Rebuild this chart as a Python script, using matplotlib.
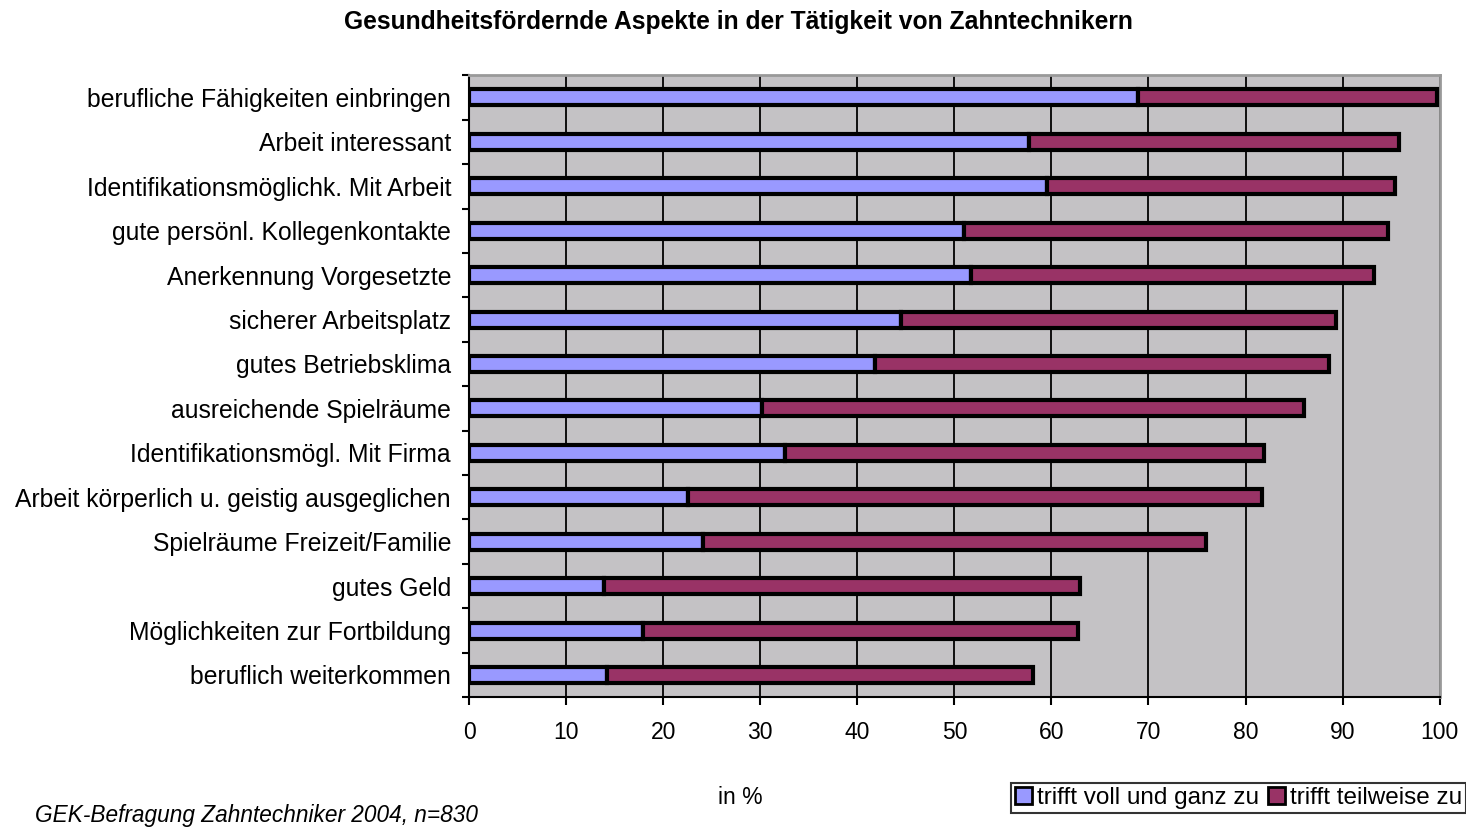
import matplotlib.pyplot as plt
from matplotlib.patches import Patch

plt.rcParams['font.family'] = ['Liberation Sans', 'DejaVu Sans']

categories = [
    'beruflich weiterkommen',
    'Möglichkeiten zur Fortbildung',
    'gutes Geld',
    'Spielräume Freizeit/Familie',
    'Arbeit körperlich u. geistig ausgeglichen',
    'Identifikationsmögl. Mit Firma',
    'ausreichende Spielräume',
    'gutes Betriebsklima',
    'sicherer Arbeitsplatz',
    'Anerkennung Vorgesetzte',
    'gute persönl. Kollegenkontakte',
    'Identifikationsmöglichk. Mit Arbeit',
    'Arbeit interessant',
    'berufliche Fähigkeiten einbringen',
]
voll = [14.2, 17.9, 13.9, 24.1, 22.6, 32.5, 30.2, 41.8, 44.5, 51.7, 51.0, 59.5, 57.7, 68.9]
gesamt = [58.1, 62.7, 62.9, 75.9, 81.7, 81.9, 86.0, 88.6, 89.3, 93.2, 94.7, 95.4, 95.8, 99.7]
teilweise = [g - v for g, v in zip(gesamt, voll)]

blue = '#9999FF'
purple = '#993366'

fig = plt.figure(figsize=(14.66, 8.27), dpi=100)
ax = fig.add_axes([0.320, 0.157, 0.662, 0.752])
ax.set_facecolor('#C4C2C5')

y = range(len(categories))
ax.barh(y, voll, height=0.36, color=blue, edgecolor='black', linewidth=3, zorder=3)
ax.barh(y, teilweise, left=voll, height=0.36, color=purple, edgecolor='black',
        linewidth=3, zorder=3)

ax.set_xlim(0, 100)
ax.set_ylim(-0.5, len(categories) - 0.5)
ax.set_xticks(range(0, 101, 10))
ax.set_yticks(list(y))
ax.set_yticklabels(categories, fontsize=17.8)
ax.set_yticks([i - 0.5 for i in range(len(categories) + 1)], minor=True)
ax.tick_params(axis='y', which='major', length=0, pad=13)
ax.tick_params(axis='y', which='minor', length=5, width=1.5, direction='out')
ax.tick_params(axis='x', length=6, width=1.5, labelsize=16.5, pad=11)
ax.grid(axis='x', color='black', linewidth=1.3, zorder=1)
ax.set_axisbelow(True)

for side in ['top', 'right']:
    ax.spines[side].set_color('#999999')
    ax.spines[side].set_linewidth(2)
for side in ['left', 'bottom']:
    ax.spines[side].set_color('black')
    ax.spines[side].set_linewidth(1.5)

fig.text(0.504, 0.974, 'Gesundheitsfördernde Aspekte in der Tätigkeit von Zahntechnikern',
         ha='center', va='center', fontsize=17.7, fontweight='bold')
fig.text(0.505, 0.036, 'in %', ha='center', va='center', fontsize=16.5)
fig.text(0.024, 0.014, 'GEK-Befragung Zahntechniker 2004, n=830', ha='left', va='center',
         fontsize=16.3, style='italic')

handles = [Patch(facecolor=blue, edgecolor='black', linewidth=2, label='trifft voll und ganz zu'),
           Patch(facecolor=purple, edgecolor='black', linewidth=2, label='trifft teilweise zu')]
leg = fig.legend(handles=handles, loc='center right', bbox_to_anchor=(1.0, 0.035), ncol=2,
                 fontsize=17.5, frameon=True, fancybox=False, handlelength=0.7, handleheight=0.7,
                 handletextpad=0.2, columnspacing=0.4, borderpad=0.15, borderaxespad=0)
leg.get_frame().set_edgecolor('black')
leg.get_frame().set_linewidth(1.5)

fig.savefig('out.png', dpi=100)
